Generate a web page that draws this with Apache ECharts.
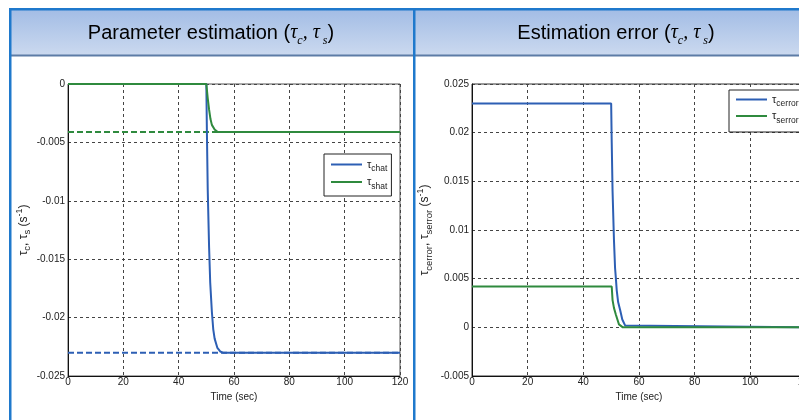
<!DOCTYPE html>
<html><head><meta charset="utf-8">
<script src="https://cdn.jsdelivr.net/npm/echarts@6/dist/echarts.min.js"></script>
<style>html,body{margin:0;padding:0;background:#fff}#c{width:799px;height:420px}</style>
</head><body><div id="c"></div>
<script>
// ---- data ----
const xMin = 0, xMax = 120, xStep = 20;
const tTrue = [0, 120];
const tauCTrue = [-0.023, -0.023];
const tauSTrue = [-0.0041, -0.0041];
const tChat = [0, 50, 50.2, 50.5, 51, 51.4, 52, 52.5, 53, 54, 55, 56, 120];
const tauChat = [0, 0, -0.004, -0.009, -0.014, -0.017, -0.0195, -0.021, -0.0218, -0.0226, -0.0229, -0.023, -0.023];
const tShat = [0, 50, 50.5, 51, 51.5, 52, 53, 54, 55, 120];
const tauShat = [0, 0, -0.0012, -0.0022, -0.003, -0.0035, -0.0039, -0.0041, -0.0041, -0.0041];
const tCerr = [0, 50, 50.2, 50.5, 51, 51.4, 51.7, 52, 52.5, 53.2, 54, 55, 55.6, 120];
const tauCerr = [0.023, 0.023, 0.019, 0.014, 0.009, 0.0061, 0.005, 0.0038, 0.0026, 0.0018, 0.0008, 0.0002, 0, 0];
const tSerr = [0, 50.2, 50.5, 51, 51.7, 52.8, 54.2, 120];
const tauSerr = [0.0042, 0.0042, 0.0028, 0.002, 0.0013, 0.0003, 0, 0];
const leftTitle = '{n|Parameter estimation (}{g|τ}{s|c}{g|, τ}{s| s}{n|)}';
const rightTitle = '{n|Estimation error (}{g|τ}{s|c}{g|, τ}{s| s}{n|)}';
const leftYName = '{g|τ}{s|c}{g|, τ}{s|s}{g| (s}{p|-1}{g|)}';
const rightYName = '{g|τ}{s|cerror}{g|, τ}{s|serror}{g| (s}{p|-1}{g|)}';
const xName = 'Time (sec)';
const legendLeft = {'τchat': '{g|τ}{s|chat}', 'τshat': '{g|τ}{s|shat}'};
const legendRight = {'τcerror': '{g|τ}{s|cerror}', 'τserror': '{g|τ}{s|serror}'};

const BLUE = '#2d5fb4', GREEN = '#2f8a3e';
const FONT = 'Liberation Sans, Arial, sans-serif';
const pairs = (t, v) => t.map((x, i) => [x, v[i]]);
const fmt = v => String(+(+v).toFixed(4));

const nameRich = {
  g: {fontSize: 12, fontFamily: FONT, color: '#222', lineHeight: 18},
  s: {fontSize: 9.5, fontFamily: FONT, color: '#222', lineHeight: 7, verticalAlign: 'bottom'},
  p: {fontSize: 9, fontFamily: FONT, color: '#222', lineHeight: 7, verticalAlign: 'top'}
};
const legRich = {
  g: {fontSize: 11, fontFamily: FONT, color: '#222', lineHeight: 18},
  s: {fontSize: 8.5, fontFamily: FONT, color: '#222', lineHeight: 6, verticalAlign: 'bottom'}
};
const titleRich = {
  n: {fontSize: 20, fontFamily: FONT, color: '#1a1a1a', lineHeight: 28},
  g: {fontSize: 20, fontFamily: 'Liberation Serif, serif', fontStyle: 'italic', color: '#1a1a1a', lineHeight: 28},
  s: {fontSize: 12, fontFamily: 'Liberation Serif, serif', fontStyle: 'italic', color: '#1a1a1a', lineHeight: 11, verticalAlign: 'bottom'}
};

function xAxis(gi) {
  return {
    type: 'value', gridIndex: gi, min: xMin, max: xMax, interval: xStep,
    name: xName, nameLocation: 'middle', nameGap: 8,
    nameTextStyle: {fontSize: 10, fontFamily: FONT, color: '#222'},
    axisLine: {show: true, onZero: false, lineStyle: {color: '#111', width: 1}},
    axisTick: {show: false},
    axisLabel: {fontSize: 10, fontFamily: FONT, color: '#222', margin: 1, formatter: fmt},
    splitLine: {show: true, lineStyle: {color: '#444', type: [3, 3], width: 1}}
  };
}
function yAxis(gi, min, max, name, gap) {
  return {
    type: 'value', gridIndex: gi, min: min, max: max, interval: 0.005,
    name: name, nameLocation: 'middle', nameRotate: 90, nameGap: gap,
    nameTextStyle: {rich: nameRich, fontSize: 12, fontFamily: FONT, color: '#222'},
    axisLine: {show: true, onZero: false, lineStyle: {color: '#111', width: 1}},
    axisTick: {show: false},
    axisLabel: {fontSize: 10, fontFamily: FONT, color: '#222', margin: 3, formatter: fmt},
    splitLine: {show: true, lineStyle: {color: '#444', type: [3, 3], width: 1}}
  };
}
function line(name, gi, data, color, dashed) {
  return {
    type: 'line', name: name, xAxisIndex: gi, yAxisIndex: gi, data: data,
    symbol: 'none', showSymbol: false, animation: false,
    lineStyle: {color: color, width: 2, type: dashed ? [6, 3] : 'solid'},
    itemStyle: {color: color}
  };
}
function legend(names, map, left, top, pad, gap) {
  return {
    show: true, data: names, orient: 'vertical', left: left, top: top,
    padding: pad, itemGap: gap, itemWidth: 31, itemHeight: 2, icon: 'rect',
    backgroundColor: '#fff', borderColor: '#222', borderWidth: 1, borderRadius: 0,
    selectedMode: false,
    formatter: n => map[n],
    textStyle: {rich: legRich, fontSize: 11, fontFamily: FONT, color: '#222'}
  };
}

const chart = echarts.init(document.getElementById('c'), null, {renderer: 'canvas'});
chart.setOption({
  backgroundColor: '#fff',
  animation: false,
  graphic: [
    {type: 'rect', shape: {x: 11, y: 10, width: 788, height: 45}, z: 0,
     style: {fill: {type: 'linear', x: 0, y: 0, x2: 0, y2: 1,
       colorStops: [{offset: 0, color: '#a3bde5'}, {offset: 1, color: '#cbd9ef'}]}}},
    {type: 'rect', shape: {x: 11, y: 54.5, width: 788, height: 2}, style: {fill: '#5d7ca6'}},
    {type: 'rect', shape: {x: 9, y: 8, width: 790, height: 2.5}, style: {fill: '#1f79cc'}},
    {type: 'rect', shape: {x: 9, y: 8, width: 2.5, height: 412}, style: {fill: '#1f79cc'}},
    {type: 'rect', shape: {x: 413, y: 8, width: 2.5, height: 412}, style: {fill: '#1f79cc'}},
    {type: 'text', x: 211, y: 33, style: {text: leftTitle, rich: titleRich, align: 'center', verticalAlign: 'middle'}},
    {type: 'text', x: 616, y: 33, style: {text: rightTitle, rich: titleRich, align: 'center', verticalAlign: 'middle'}}
  ],
  grid: [
    {left: 68, right: 399, top: 84, bottom: 44, show: true, borderColor: '#555', borderWidth: 1, backgroundColor: '#fff', containLabel: false, outerBoundsMode: 'none'},
    {left: 472, right: -7, top: 84, bottom: 44, show: true, borderColor: '#333', borderWidth: 1, backgroundColor: '#fff', containLabel: false, outerBoundsMode: 'none'}
  ],
  xAxis: [xAxis(0), xAxis(1)],
  yAxis: [yAxis(0, -0.025, 0, leftYName, 34), yAxis(1, -0.005, 0.025, rightYName, 38)],
  legend: [
    legend(['τchat', 'τshat'], legendLeft, 324, 154, [5, 4, 5, 7], 3),
    legend(['τcerror', 'τserror'], legendRight, 729, 90, [4, 4, 7, 7], 2)
  ],
  series: [
    line('τctrue', 0, pairs(tTrue, tauCTrue), BLUE, true),
    line('τstrue', 0, pairs(tTrue, tauSTrue), GREEN, true),
    line('τchat', 0, pairs(tChat, tauChat), BLUE, false),
    line('τshat', 0, pairs(tShat, tauShat), GREEN, false),
    line('τcerror', 1, pairs(tCerr, tauCerr), BLUE, false),
    line('τserror', 1, pairs(tSerr, tauSerr), GREEN, false)
  ]
});
</script></body></html>
